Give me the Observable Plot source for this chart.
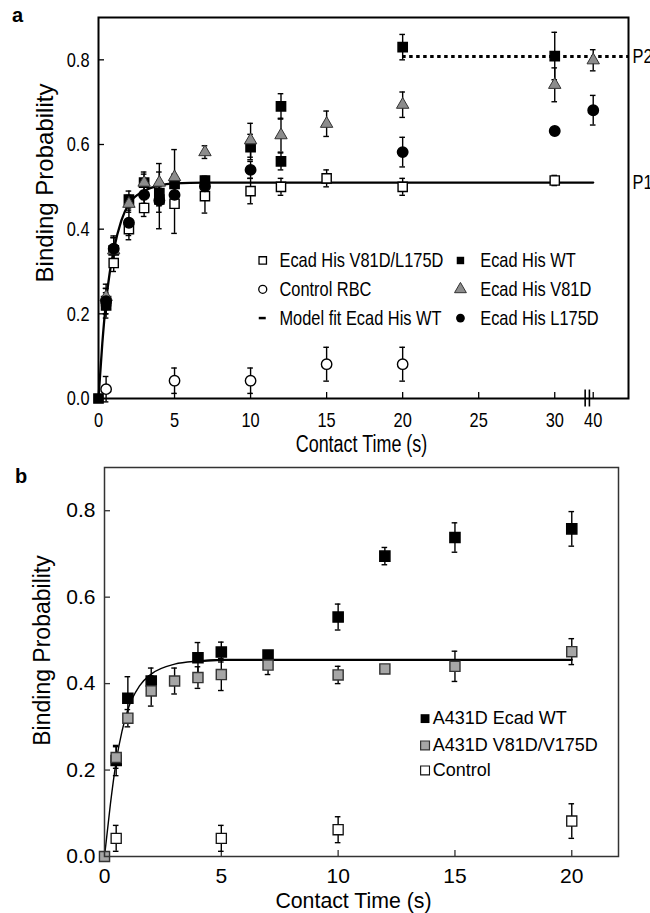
<!DOCTYPE html>
<html><head><meta charset="utf-8">
<script src="https://cdn.jsdelivr.net/npm/d3@7"></script>
<script src="https://cdn.jsdelivr.net/npm/@observablehq/plot@0.6"></script>
<style>
body{margin:0;background:#fff;}
#wrap{position:relative;width:650px;height:913px;overflow:hidden;background:#fff;}
#pa{position:absolute;left:0;top:0;}
#pb{position:absolute;left:0;top:462px;}
.lab{position:absolute;font:bold 20px "Liberation Sans",Arial,sans-serif;color:#000;}
</style></head><body>
<div id="wrap"><div id="pa"></div><div id="pb"></div>
<div class="lab" style="left:12px;top:4px">a</div>
<div class="lab" style="left:15px;top:465px">b</div></div>
<script>
// ---------- Panel a data ----------
const aXTickValues = [0, 5, 10, 15, 20, 25, 30, 40];
const aXTickLabels = ["0", "5", "10", "15", "20", "25", "30", "40"];
const aYTickValues = [0, 0.2, 0.4, 0.6, 0.8];

const aDblT = [0.5, 1, 2, 3, 4, 5, 7, 10, 12, 15, 20, 30];
const aDblV = [0.23, 0.32, 0.40, 0.45, 0.47, 0.46, 0.478, 0.49, 0.50, 0.52, 0.50, 0.515];
const aDblE = [0.03, 0.02, 0.025, 0.02, 0.03, 0.07, 0.04, 0.03, 0.02, 0.02, 0.02, 0.012];

const aCtlT = [0.5, 5, 10, 15, 20];
const aCtlV = [0.022, 0.042, 0.042, 0.081, 0.081];
const aCtlE = [0.03, 0.03, 0.03, 0.04, 0.04];

const aWtT = [0, 0.5, 1, 2, 3, 4, 5, 7, 10, 12, 12, 20, 30];
const aWtV = [0, 0.22, 0.35, 0.47, 0.51, 0.485, 0.507, 0.515, 0.594, 0.69, 0.56, 0.83, 0.809];
const aWtE = [0, 0.03, 0.03, 0.02, 0.025, 0.03, 0.02, 0.01, 0.03, 0.03, 0.02, 0.03, 0.056];

const aV81T = [0.5, 1, 2, 3, 4, 5, 7, 10, 12, 15, 20, 30, 40];
const aV81V = [0.24, 0.35, 0.46, 0.51, 0.51, 0.523, 0.582, 0.61, 0.622, 0.649, 0.694, 0.741, 0.799];
const aV81E = [0.03, 0.03, 0.02, 0.02, 0.045, 0.065, 0.015, 0.04, 0.04, 0.03, 0.03, 0.04, 0.025];

const aL175T = [0.5, 1, 2, 3, 4, 5, 7, 10, 20, 30, 40];
const aL175V = [0.23, 0.354, 0.415, 0.481, 0.468, 0.481, 0.501, 0.54, 0.582, 0.632, 0.681];
const aL175E = [0.03, 0.03, 0.03, 0.02, 0.067, 0.02, 0.01, 0.02, 0.035, 0, 0.035];

const aFitT = [0, 0.25, 0.5, 0.75, 1, 1.5, 2, 3, 4, 5, 7, 10, 40];
const aFitV = [0, 0.13, 0.23, 0.30, 0.35, 0.42, 0.46, 0.49, 0.503, 0.508, 0.51, 0.51, 0.51];

const aPLabels = ["P1", "P2"];
const aPLevels = [0.51, 0.808];
const aP2Start = 20;

const aLegendLabels = ["Ecad His V81D/L175D", "Control RBC", "Model fit Ecad His WT",
                       "Ecad His WT", "Ecad His V81D", "Ecad His L175D"];

// ---------- Panel b data ----------
const bXTickValues = [0, 5, 10, 15, 20];
const bYTickValues = [0, 0.2, 0.4, 0.6, 0.8];

const bWtT = [0.5, 1, 2, 4, 5, 7, 10, 12, 15, 20];
const bWtV = [0.222, 0.366, 0.406, 0.46, 0.473, 0.466, 0.554, 0.695, 0.738, 0.758];
const bWtE = [0.035, 0.05, 0.03, 0.035, 0.023, 0.01, 0.03, 0.02, 0.034, 0.04];

const bMutT = [0, 0.5, 1, 2, 3, 4, 5, 7, 10, 12, 15, 20];
const bMutV = [0, 0.229, 0.32, 0.383, 0.406, 0.414, 0.421, 0.443, 0.42, 0.434, 0.44, 0.474];
const bMutE = [0, 0.025, 0.02, 0.035, 0.03, 0.025, 0.037, 0.022, 0.02, 0, 0.035, 0.03];

const bCtlT = [0.5, 5, 10, 20];
const bCtlV = [0.042, 0.042, 0.062, 0.082];
const bCtlE = [0.03, 0.03, 0.03, 0.04];

const bFitT = [0, 0.25, 0.5, 0.75, 1, 1.5, 2, 3, 4, 5, 7, 10, 20];
const bFitV = [0, 0.12, 0.22, 0.29, 0.34, 0.395, 0.422, 0.445, 0.452, 0.455, 0.455, 0.455, 0.455];

const bLegendLabels = ["A431D Ecad WT", "A431D V81D/V175D", "Control"];

// ---------- helpers ----------
const FR = '"Liberation Sans",Arial,Helvetica,sans-serif';
const rows = (t, v, e) => t.map((d, i) => ({t: d, v: v[i], e: e ? e[i] : 0}));
const brk = t => (t <= 30 ? t : 30 + (t - 30) * 0.253);   // broken axis 30 | 40

function errMarks(data, xf, cap, sw) {
  const d = data.filter(r => r.e > 0);
  const st = {stroke: "#000", strokeWidth: sw};
  return [
    Plot.ruleX(d, {x: xf, y1: r => r.v - r.e, y2: r => r.v + r.e, ...st}),
    Plot.ruleY(d, {y: r => r.v + r.e, x1: xf, x2: xf, insetLeft: -cap, insetRight: -cap, ...st}),
    Plot.ruleY(d, {y: r => r.v - r.e, x1: xf, x2: xf, insetLeft: -cap, insetRight: -cap, ...st})
  ];
}

// horizontally condense the (non-rotated) texts of a chart, as in the reference figure
function condense(svg, k) {
  svg.querySelectorAll("text").forEach(t => {
    const tr = (t.getAttribute("transform") || "") + ((t.parentNode && t.parentNode.getAttribute && t.parentNode.getAttribute("transform")) || "");
    if (tr.includes("rotate")) return;
    const L = t.getComputedTextLength();
    if (L > 0) {
      t.setAttribute("textLength", (L * k).toFixed(2));
      t.setAttribute("lengthAdjust", "spacingAndGlyphs");
    }
  });
}

// ---------- Panel a ----------
const aDbl = rows(aDblT, aDblV, aDblE), aCtl = rows(aCtlT, aCtlV, aCtlE),
      aWt = rows(aWtT, aWtV, aWtE), aV81 = rows(aV81T, aV81V, aV81E),
      aL175 = rows(aL175T, aL175V, aL175E), aFit = rows(aFitT, aFitV);
const aX = r => brk(r.t);
const aXMax = 34.85;
const aTickPos = aXTickValues.map(brk);
const aTickLab = new Map(aTickPos.map((p, i) => [p, aXTickLabels[i]]));

// legend layout (panel a)
const aLegRows = [0.326, 0.258, 0.19], aLegSymX = [10.8, 23.8], aLegTxtX = [11.9, 25.1];
const aLeg = aLegendLabels.map((lab, i) => ({lab, col: Math.floor(i / 3), row: i % 3}));
const legPt = i => [{x: aLegSymX[aLeg[i].col], y: aLegRows[aLeg[i].row]}];

const plotA = Plot.plot({
  width: 650, height: 462,
  marginLeft: 98, marginRight: 22, marginTop: 17, marginBottom: 64,
  x: {domain: [0, aXMax]},
  y: {domain: [0, 0.9]},
  style: {fontFamily: FR, fontSize: "20px", color: "#000", background: "transparent"},
  marks: [
    Plot.axisX(aTickPos, {tickSize: 0, tickPadding: 14, tickFormat: d => aTickLab.get(d), label: null, fontSize: 21, fontFamily: FR}),
    Plot.axisY(aYTickValues, {tickSize: 0, tickPadding: 9, tickFormat: d3.format(".1f"), label: null, fontSize: 21, fontFamily: FR}),
    Plot.ruleX(aTickPos.slice(1), {x: d => d, y1: 0, y2: 0, insetBottom: 6, stroke: "#000", strokeWidth: 1.3}),
    Plot.ruleY(aYTickValues.slice(1), {y: d => d, x1: 0, x2: 0, insetLeft: 6, stroke: "#000", strokeWidth: 1.3}),
    Plot.ruleX([32.0, 32.28], {x: d => d, y1: -0.02, y2: 0.02, stroke: "#000", strokeWidth: 1.6}),
    ...errMarks(aDbl, aX, 2.8, 1.4),
    ...errMarks(aCtl, aX, 2.8, 1.4),
    ...errMarks(aWt, aX, 2.8, 1.4),
    ...errMarks(aV81, aX, 2.8, 1.4),
    ...errMarks(aL175, aX, 2.8, 1.4),
    Plot.line(aFit, {x: aX, y: "v", curve: "monotone-x", stroke: "#000", strokeWidth: 2.3}),
    Plot.ruleY([aPLevels[1]], {y: d => d, x1: aP2Start, x2: aXMax, stroke: "#000", strokeWidth: 3, strokeDasharray: "3.5,3.5"}),
    Plot.text(aPLabels.map((l, i) => ({l, y: aPLevels[i]})), {x: aXMax, y: "y", text: "l", dx: 4, textAnchor: "start", fontSize: 21, fontFamily: FR}),
    Plot.dot(aDbl, {x: aX, y: "v", symbol: "square", r: 5.2, fill: "#fff", stroke: "#000", strokeWidth: 1.4}),
    Plot.dot(aCtl, {x: aX, y: "v", symbol: "circle", r: 5.2, fill: "#fff", stroke: "#000", strokeWidth: 1.4}),
    Plot.dot(aWt, {x: aX, y: "v", symbol: "square", r: 5.2, fill: "#000", stroke: "#000"}),
    Plot.dot(aV81, {x: aX, y: "v", symbol: "triangle", r: 4.6, fill: "#8c8c8c", stroke: "#333", strokeWidth: 1}),
    Plot.dot(aL175, {x: aX, y: "v", symbol: "circle", r: 5.2, fill: "#000", stroke: "#000"}),
    // legend
    Plot.dot(legPt(0), {x: "x", y: "y", symbol: "square", r: 4.2, fill: "#fff", stroke: "#000", strokeWidth: 1.3}),
    Plot.dot(legPt(1), {x: "x", y: "y", symbol: "circle", r: 4, fill: "#fff", stroke: "#000", strokeWidth: 1.3}),
    Plot.ruleY(legPt(2), {y: "y", x1: "x", x2: "x", insetLeft: -3.5, insetRight: -3.5, stroke: "#000", strokeWidth: 2.5}),
    Plot.dot(legPt(3), {x: "x", y: "y", symbol: "square", r: 4.2, fill: "#000"}),
    Plot.dot(legPt(4), {x: "x", y: "y", symbol: "triangle", r: 4.4, fill: "#8c8c8c", stroke: "#333", strokeWidth: 1}),
    Plot.dot(legPt(5), {x: "x", y: "y", symbol: "circle", r: 4.4, fill: "#000"}),
    Plot.text(aLeg, {x: d => aLegTxtX[d.col], y: d => aLegRows[d.row], text: "lab", textAnchor: "start", fontSize: 21, fontFamily: FR}),
    // titles
    Plot.text(["Contact Time (s)"], {text: d => d, frameAnchor: "bottom", textAnchor: "middle", lineAnchor: "middle", dy: 46, dx: -2, fontSize: 23, fontFamily: FR}),
    Plot.text(["Binding Probability"], {text: d => d, frameAnchor: "left", textAnchor: "middle", lineAnchor: "middle", rotate: -90, dx: -53, dy: -25, fontSize: 24, fontFamily: FR}),
    Plot.frame({stroke: "#000", strokeWidth: 2})
  ]
});
document.getElementById("pa").appendChild(plotA);
condense(plotA, 0.78);

// ---------- Panel b ----------
const bWt = rows(bWtT, bWtV, bWtE), bMut = rows(bMutT, bMutV, bMutE),
      bCtl = rows(bCtlT, bCtlV, bCtlE), bFit = rows(bFitT, bFitV);
const bLegRows = [0.319, 0.257, 0.199], bLegSymX = 13.72, bLegTxtX = 14.05;
const bLeg = bLegendLabels.map((lab, i) => ({lab, x: bLegSymX, y: bLegRows[i]}));

const plotB = Plot.plot({
  width: 650, height: 451,
  marginLeft: 104, marginRight: 32, marginTop: 5, marginBottom: 57,
  x: {domain: [0, 22]},
  y: {domain: [0, 0.9]},
  style: {fontFamily: FR, fontSize: "20px", color: "#000", background: "transparent"},
  marks: [
    Plot.axisX(bXTickValues, {tickSize: 0, tickPadding: 12, label: null, fontSize: 21, fontFamily: FR}),
    Plot.axisY(bYTickValues, {tickSize: 0, tickPadding: 9, tickFormat: d3.format(".1f"), label: null, fontSize: 21, fontFamily: FR}),
    Plot.ruleX(bXTickValues.slice(1), {x: d => d, y1: 0, y2: 0, insetBottom: 6, stroke: "#333", strokeWidth: 1.3}),
    Plot.ruleY(bYTickValues.slice(1), {y: d => d, x1: 0, x2: 0, insetLeft: 6, stroke: "#333", strokeWidth: 1.3}),
    ...errMarks(bCtl, "t", 2.8, 1.4),
    ...errMarks(bWt, "t", 2.8, 1.4),
    ...errMarks(bMut, "t", 2.8, 1.4),
    Plot.line(bFit, {x: "t", y: "v", curve: "monotone-x", stroke: "#000", strokeWidth: 1.4}),
    Plot.line(bFit.filter(r => r.t >= 4), {x: "t", y: "v", stroke: "#000", strokeWidth: 2.2}),
    Plot.dot(bCtl, {x: "t", y: "v", symbol: "square", r: 5.7, fill: "#fff", stroke: "#111", strokeWidth: 1.3}),
    Plot.dot(bWt, {x: "t", y: "v", symbol: "square", r: 5.7, fill: "#000", stroke: "#000"}),
    Plot.dot(bMut, {x: "t", y: "v", symbol: "square", r: 5.7, fill: "#a6a6a6", stroke: "#333", strokeWidth: 1.4}),
    // legend
    Plot.dot(bLeg.slice(0, 1), {x: "x", y: "y", symbol: "square", r: 5, fill: "#000"}),
    Plot.dot(bLeg.slice(1, 2), {x: "x", y: "y", symbol: "square", r: 5, fill: "#a6a6a6", stroke: "#333", strokeWidth: 1.2}),
    Plot.dot(bLeg.slice(2, 3), {x: "x", y: "y", symbol: "square", r: 5, fill: "#fff", stroke: "#111", strokeWidth: 1.1}),
    Plot.text(bLeg, {x: bLegTxtX, y: "y", text: "lab", textAnchor: "start", fontSize: 18, fontFamily: FR}),
    Plot.text(["Contact Time (s)"], {text: d => d, frameAnchor: "bottom", textAnchor: "middle", lineAnchor: "middle", dy: 45, dx: -8, fontSize: 21.3, fontFamily: FR}),
    Plot.text(["Binding Probability"], {text: d => d, frameAnchor: "left", textAnchor: "middle", lineAnchor: "middle", rotate: -90, dx: -61.5, dy: -11.5, fontSize: 23, fontFamily: FR}),
    Plot.frame({stroke: "#333", strokeWidth: 1.5})
  ]
});
document.getElementById("pb").appendChild(plotB);
</script>
</body></html>
